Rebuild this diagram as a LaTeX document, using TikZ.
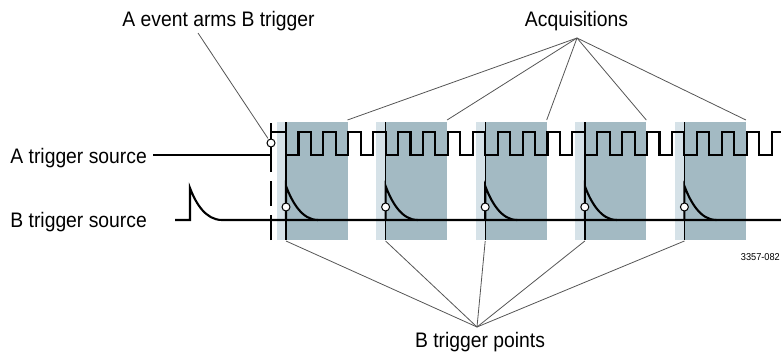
\documentclass[tikz,border=0pt]{standalone}
\usepackage{fontspec}
\setmainfont[FakeStretch=0.92]{Liberation Sans}
\definecolor{bandlight}{HTML}{D6E2E8}
\definecolor{banddark}{HTML}{A3BAC3}
\definecolor{callgray}{HTML}{555555}
\begin{document}
\begin{tikzpicture}[x=1pt,y=-1pt,
  lbl/.style={font=\fontsize{21}{24}\selectfont, inner sep=0pt, anchor=base},
  sig/.style={line width=2.1pt, line join=miter},
  trig/.style={line width=1.4pt},
  callout/.style={draw=callgray, line width=0.8pt},
  ring/.style={circle, draw, fill=white, line width=1pt, minimum size=8pt, inner sep=0pt},
]
\useasboundingbox (0,0) rectangle (781,353);

% acquisition bands
\foreach \i in {0,...,4} {
  \pgfmathsetmacro\xt{286+99.6*\i}
  \fill[bandlight] (\xt-9.5,122) rectangle (\xt,240);
  \fill[banddark] (\xt,122) rectangle (\xt+61.5,240);
  \coordinate (acq\i) at (\xt+61.5,120);
  \coordinate (bt\i) at (\xt,241);
}

% A trigger source signal
\draw[sig] (153,155) -- (271,155) -- (271,132)
  \foreach \k in {0,...,20} {
    -- ({286+24.9*\k},132) -- ({286+24.9*\k},155)
    -- ({298.45+24.9*\k},155) -- ({298.45+24.9*\k},132) };

% B trigger source signal
\draw[sig] (175,220) -- (190,220) -- (190,188)
  .. controls (196,204) and (206,220) .. (222,220) -- (790,220);
\foreach \i in {0,...,4} {
  \pgfmathsetmacro\xt{286+99.6*\i}
  \draw[sig] (\xt,220) -- (\xt,186)
    .. controls (\xt+6,202) and (\xt+16,220) .. (\xt+32,220);
  \draw[trig] (\xt,122) -- (\xt,240);
}

% arming marker
\draw[trig, dash pattern=on 25pt off 9pt] (271,240) -- (271,123);
\node[ring] (ca) at (271,143) {};
\foreach \i in {0,...,4} {
  \pgfmathsetmacro\xt{286+99.6*\i}
  \node[ring] (cb\i) at (\xt,207) {};
}

% labels
\node[lbl] (tarm) at (218.5,27) {A event arms B trigger};
\node[lbl] (tacq) at (576.5,27) {Acquisitions};
\node[lbl] (tbtp) at (480,347) {B trigger points};
\node[lbl, anchor=base east] (tasrc) at (147,163) {A trigger source};
\node[lbl, anchor=base east] (tbsrc) at (147,227) {B trigger source};
\node[font=\fontsize{10}{12}\selectfont, inner sep=0pt, anchor=base east] (tid) at (780,260) {3357-082};

% callouts
\coordinate (arm0) at (198,33);
\draw[callout, shorten >=1pt] (arm0) -- (ca);
\coordinate (acqapex) at (577,38);
\foreach \i in {0,...,4} { \draw[callout] (acqapex) -- (acq\i); }
\coordinate (btapex) at (477,327);
\foreach \i in {0,...,4} { \draw[callout] (bt\i) -- (btapex); }
\end{tikzpicture}
\end{document}
